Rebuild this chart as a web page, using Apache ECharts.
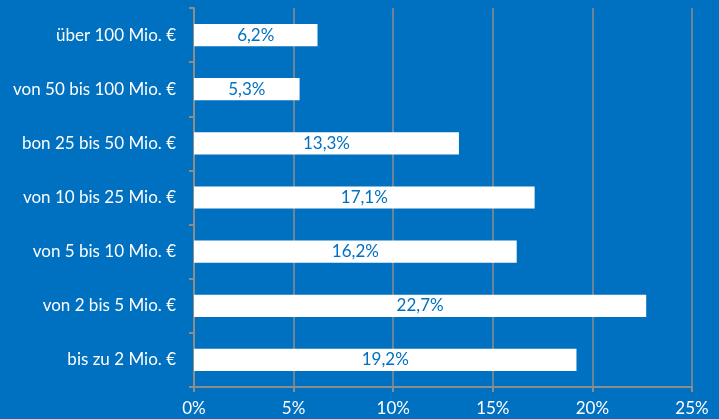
<!DOCTYPE html>
<html>
<head>
<meta charset="utf-8">
<script src="https://cdn.jsdelivr.net/npm/echarts@6/dist/echarts.min.js"></script>
<style>
  html, body { margin: 0; padding: 0; background: #0070C0; }
  #chart { width: 719px; height: 419px; }
</style>
</head>
<body>
<div id="chart"></div>
<script>
// Kategorien von oben nach unten
const categories = [
  'über 100 Mio. €',
  'von 50 bis 100 Mio. €',
  'bon 25 bis 50 Mio. €',
  'von 10 bis 25 Mio. €',
  'von 5 bis 10 Mio. €',
  'von 2 bis 5 Mio. €',
  'bis zu 2 Mio. €'
]
const shares = [6.2, 5.3, 13.3, 17.1, 16.2, 22.7, 19.2]
const xTicks = [0, 5, 10, 15, 20, 25]

const fontFamily = 'Lato, "Open Sans", sans-serif'
const grey = '#8c8c8c'

const chart = echarts.init(document.getElementById('chart'))
chart.setOption({
  backgroundColor: '#0070C0',
  animation: false,
  grid: { left: 194, right: 27, top: 8, bottom: 32, containLabel: false },
  xAxis: {
    type: 'value',
    min: xTicks[0],
    max: xTicks[xTicks.length - 1],
    interval: 5,
    axisLine: { show: true, lineStyle: { color: grey, width: 2 } },
    axisTick: { show: true, length: 5, lineStyle: { color: grey, width: 2 } },
    splitLine: { show: true, lineStyle: { color: grey, width: 1.5 } },
    axisLabel: {
      color: '#ffffff',
      fontFamily: fontFamily,
      fontSize: 17,
      margin: 13,
      formatter: v => v + '%'
    }
  },
  yAxis: {
    type: 'category',
    inverse: true,
    data: categories,
    axisLine: { show: true, lineStyle: { color: grey, width: 2 } },
    axisTick: { show: true, length: 5, lineStyle: { color: grey, width: 2 } },
    axisLabel: {
      color: '#ffffff',
      fontFamily: fontFamily,
      fontSize: 17,
      margin: 18
    }
  },
  series: [
    {
      type: 'bar',
      data: shares,
      barCategoryGap: '59%',
      itemStyle: { color: '#ffffff' },
      label: {
        show: true,
        position: 'inside',
        color: '#0070C0',
        fontFamily: fontFamily,
        fontSize: 17,
        formatter: p => p.value.toFixed(1).replace('.', ',') + '%'
      }
    }
  ]
})
</script>
</body>
</html>
